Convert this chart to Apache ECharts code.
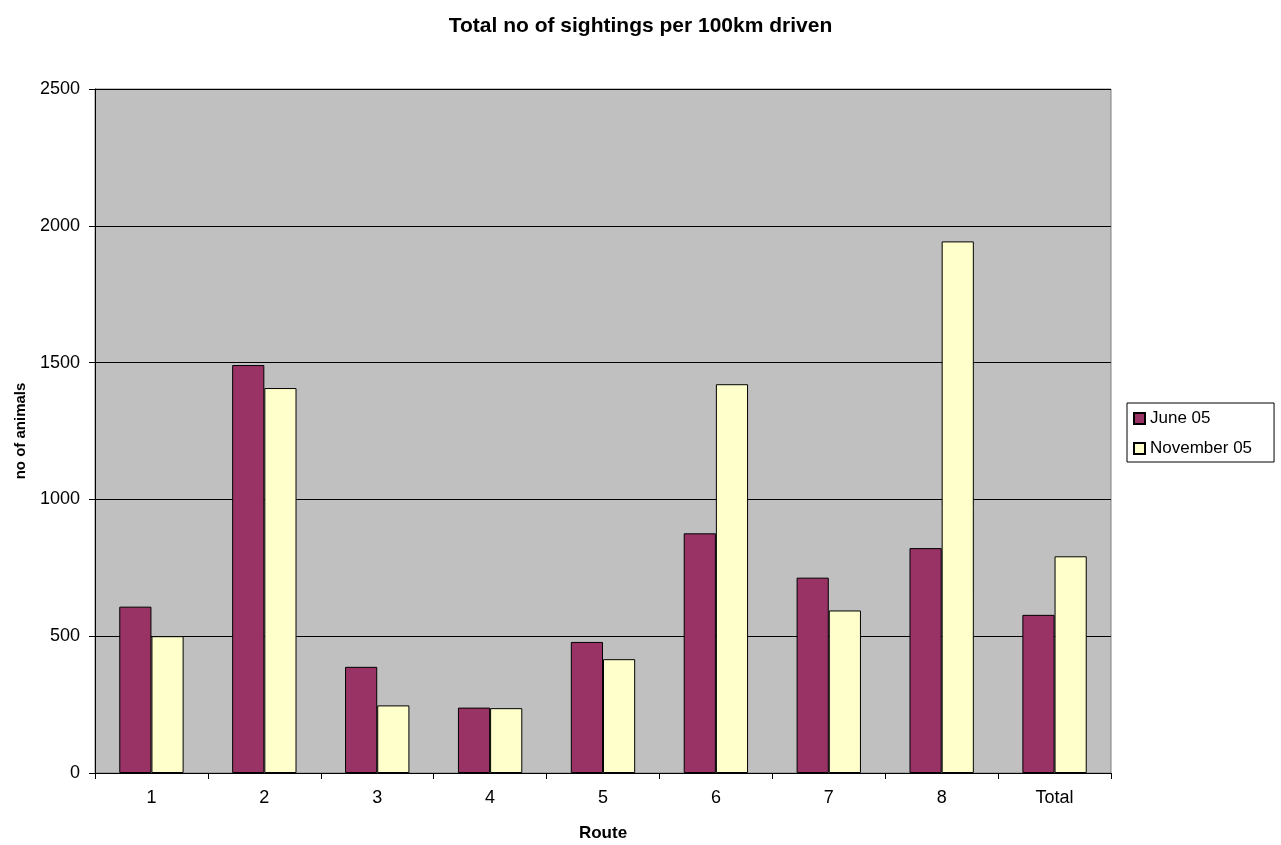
<!DOCTYPE html>
<html>
<head>
<meta charset="utf-8">
<script src="https://cdn.jsdelivr.net/npm/echarts@6/dist/echarts.min.js"></script>
<style>
  html, body { margin: 0; padding: 0; background: #ffffff; }
  #chart { width: 1281px; height: 845px; }
</style>
</head>
<body>
<div id="chart"></div>
<script>
// Routes along the x axis
const routes = ['1', '2', '3', '4', '5', '6', '7', '8', 'Total'];
// Sightings per 100 km driven
const june05 = [608, 1491, 388, 239, 479, 876, 714, 822, 578];
const november05 = [500, 1407, 247, 237, 416, 1421, 594, 1943, 792];
// Value axis ticks
const yTicks = [0, 500, 1000, 1500, 2000, 2500];

const font = '"Liberation Sans", Arial, sans-serif';

const chart = echarts.init(document.getElementById('chart'), null, { renderer: 'canvas' });

chart.setOption({
  animation: false,
  backgroundColor: '#ffffff',
  title: {
    text: 'Total no of sightings per 100km driven',
    left: 'center',
    top: 11,
    textStyle: { fontFamily: font, fontSize: 21, fontWeight: 'bold', color: '#000000' }
  },
  legend: {
    orient: 'vertical',
    left: 1127,
    top: 403,
    padding: [7, 22, 5, 6],
    itemGap: 13,
    itemWidth: 11,
    itemHeight: 11,
    borderColor: '#000000',
    borderWidth: 1,
    icon: 'rect',
    textStyle: { fontFamily: font, fontSize: 17, color: '#000000', padding: [0, 0, 0, 0] },
    data: ['June 05', 'November 05']
  },
  grid: {
    left: 95,
    right: 170,
    top: 89,
    bottom: 72,
    outerBoundsMode: 'none',
    containLabel: false,
    show: true,
    backgroundColor: '#c0c0c0',
    borderColor: '#808080',
    borderWidth: 1
  },
  xAxis: {
    type: 'category',
    data: routes,
    name: 'Route',
    nameLocation: 'middle',
    nameGap: 52,
    nameTextStyle: { fontFamily: font, fontSize: 17, fontWeight: 'bold', color: '#000000' },
    axisLine: { lineStyle: { color: '#000000', width: 1 } },
    axisTick: { show: true, length: 6, lineStyle: { color: '#000000' } },
    axisLabel: { fontFamily: font, fontSize: 18, color: '#000000', margin: 16 },
    splitLine: { show: false }
  },
  yAxis: {
    type: 'value',
    min: yTicks[0],
    max: yTicks[yTicks.length - 1],
    interval: yTicks[1] - yTicks[0],
    name: 'no of animals',
    nameLocation: 'middle',
    nameGap: 67,
    nameRotate: 90,
    nameTextStyle: { fontFamily: font, fontSize: 15, fontWeight: 'bold', color: '#000000' },
    axisLine: { show: true, lineStyle: { color: '#000000', width: 1 } },
    axisTick: { show: true, length: 6, lineStyle: { color: '#000000' } },
    axisLabel: {
      fontFamily: font, fontSize: 18, color: '#000000', margin: 15,
      formatter: (v) => String(v)
    },
    splitLine: { show: true, lineStyle: { color: '#000000', width: 1 } }
  },
  series: [
    {
      name: 'June 05',
      type: 'bar',
      data: june05,
      barGap: '0%',
      barCategoryGap: '43%',
      itemStyle: { color: '#993366', borderColor: '#000000', borderWidth: 1 }
    },
    {
      name: 'November 05',
      type: 'bar',
      data: november05,
      barGap: '0%',
      barCategoryGap: '43%',
      itemStyle: { color: '#ffffcc', borderColor: '#000000', borderWidth: 1 }
    }
  ]
});
</script>
</body>
</html>
